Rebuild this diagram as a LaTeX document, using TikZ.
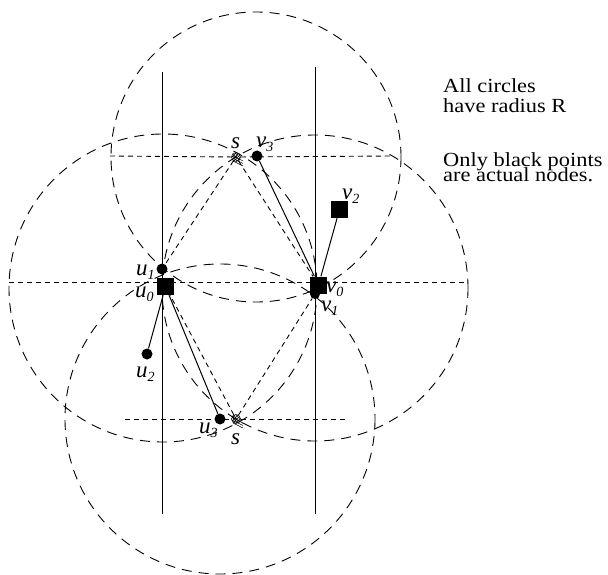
\documentclass[tikz,border=0pt]{standalone}
\usepackage{fontspec}
\setmainfont{Liberation Serif}
\newfontfamily\txtfont[FakeStretch=1.12]{Liberation Serif}
\usetikzlibrary{patterns,calc}
\newcommand\sublab[2]{\textit{#1}\raisebox{-4pt}{\fontsize{14}{14}\selectfont\textit{#2}}}
\begin{document}
\begin{tikzpicture}[x=1pt,y=-1pt,
 circ/.style={dash pattern=on 10pt off 7pt, line width=0.9pt},
 sdash/.style={dash pattern=on 5pt off 4pt, line width=0.9pt},
 solidln/.style={line width=1pt},
 dot/.style={circle, fill=black, inner sep=0pt, minimum size=11pt},
 sqnode/.style={rectangle, fill=black, inner sep=0pt, minimum size=17pt},
 snode/.style={circle, draw, line width=0.5pt, pattern=crosshatch, inner sep=0pt, minimum size=9pt},
 hatch/.style={line width=0.45pt},
 lab/.style={anchor=base west, inner sep=0pt, font=\fontsize{23}{23}\selectfont},
 txt/.style={anchor=base west, inner sep=0pt, font=\txtfont\fontsize{20}{20}\selectfont}]
\useasboundingbox (0,0) rectangle (608,575);

% nodes
\node[sqnode] (u0) at (165.5,286.5) {};
\node[dot] (u1) at (162,269) {};
\node[dot] (u2) at (147,354) {};
\node[dot] (u3) at (220,419) {};
\node[sqnode] (v0) at (318.5,285) {};
\node[dot, minimum size=10pt] (v1) at (315,294) {};
\node[sqnode] (v2) at (339.5,209.5) {};
\node[dot] (v3) at (257,156) {};
\node[snode] (st) at (236,157) {};
\node[snode] (sb) at (236,419) {};

% circles of radius R
\draw[circ] (163,288) circle[radius=154];
\draw[circ] (315,288) circle[radius=153];
\draw[circ] (256,157) circle[radius=145];
\draw[circ] (220,419) circle[radius=155];

% vertical lines
\coordinate (lt) at (162,72); \coordinate (lb) at (162,514);
\coordinate (rt) at (315,67); \coordinate (rb) at (315,514);
\draw[solidln] (lt) -- (lb);
\draw[solidln] (rt) -- (rb);

% horizontal dashed lines
\coordinate (h1a) at (9,282);   \coordinate (h1b) at (468,282);
\coordinate (h2a) at (110,156); \coordinate (h2b) at (393,156);
\coordinate (h3a) at (125,419); \coordinate (h3b) at (348,419);
\draw[sdash] (h1a) -- (h1b);
\draw[sdash] (h2a) -- (st) -- (h2b);
\draw[sdash] (h3a) -- (sb) -- (h3b);

% triangle edges
\draw[sdash] (st) -- (u1);
\draw[sdash] (st) -- (v0);
\draw[sdash] (sb) -- (u0);
\draw[sdash] (sb) -- (v1);

% solid edges
\draw[solidln] (u0) -- (u2);
\draw[solidln] (u0) -- (u3);
\draw[solidln] (v0) -- (v3);
\draw[solidln] (v0) -- (v2);

% hatch marks of s symbols
\foreach \d in {0,2.5,5}{
  \draw[hatch] ($(st)+(-3,\d-1)$) -- ++(10,5);
  \draw[hatch] ($(sb)+(-3,\d-1)$) -- ++(10,5);
}

% labels
\node[lab] (lst) at (231,149) {\textit{s}};
\node[lab] (lsb) at (231,444) {\textit{s}};
\node[lab] (lv3) at (256,148) {\sublab{v}{3}};
\node[lab] (lu1) at (136,275) {\sublab{u}{1}};
\node[lab] (lu0) at (135,297) {\sublab{u}{0}};
\node[lab] (lv0) at (326,292) {\sublab{v}{0}};
\node[lab] (lv1) at (321,311) {\sublab{v}{1}};
\node[lab] (lv2) at (342,200) {\sublab{v}{2}};
\node[lab] (lu2) at (136,377) {\sublab{u}{2}};
\node[lab] (lu3) at (199,433) {\sublab{u}{3}};

% text
\node[txt] (t1) at (443,93) {All circles};
\node[txt] (t2) at (443,113) {have radius R};
\node[txt] (t3) at (443,167) {Only black points};
\node[txt] (t4) at (443,182) {are actual nodes.};
\end{tikzpicture}
\end{document}
